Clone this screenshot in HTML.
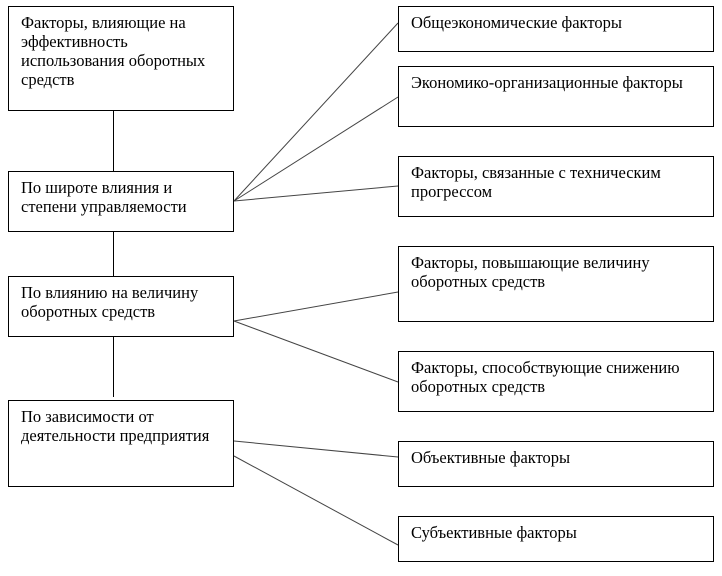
<!DOCTYPE html>
<html><head><meta charset="utf-8"><style>
body{margin:0;background:#fff;}
svg text{font-family:"Liberation Serif",serif;font-size:16.5px;fill:#000;}
</style></head><body>
<svg width="722" height="571" xmlns="http://www.w3.org/2000/svg">
<g fill="none" stroke="#000" stroke-width="1">
<rect x="8.5" y="6.5" width="225" height="104"/>
<rect x="8.5" y="171.5" width="225" height="60"/>
<rect x="8.5" y="276.5" width="225" height="60"/>
<rect x="8.5" y="400.5" width="225" height="86"/>
<rect x="398.5" y="6.5" width="315" height="45"/>
<rect x="398.5" y="66.5" width="315" height="60"/>
<rect x="398.5" y="156.5" width="315" height="60"/>
<rect x="398.5" y="246.5" width="315" height="75"/>
<rect x="398.5" y="351.5" width="315" height="60"/>
<rect x="398.5" y="441.5" width="315" height="45"/>
<rect x="398.5" y="516.5" width="315" height="45"/>
<line x1="113.5" y1="111" x2="113.5" y2="171"/>
<line x1="113.5" y1="232" x2="113.5" y2="276"/>
<line x1="113.5" y1="337" x2="113.5" y2="397"/>
</g>
<g stroke="#444" stroke-width="1">
<line x1="234" y1="201" x2="398" y2="23"/>
<line x1="234" y1="201" x2="398" y2="97"/>
<line x1="234" y1="201" x2="398" y2="186"/>
<line x1="234" y1="321" x2="398" y2="292"/>
<line x1="234" y1="321" x2="398" y2="382"/>
<line x1="234" y1="441" x2="398" y2="457"/>
<line x1="234" y1="456" x2="398" y2="545"/>
</g>
<text x="21" y="28">Факторы, влияющие на</text>
<text x="21" y="47">эффективность</text>
<text x="21" y="66">использования оборотных</text>
<text x="21" y="85">средств</text>
<text x="21" y="193">По широте влияния и</text>
<text x="21" y="212">степени управляемости</text>
<text x="21" y="298">По влиянию на величину</text>
<text x="21" y="317">оборотных средств</text>
<text x="21" y="422">По зависимости от</text>
<text x="21" y="441">деятельности предприятия</text>
<text x="411" y="28">Общеэкономические факторы</text>
<text x="411" y="88">Экономико-организационные факторы</text>
<text x="411" y="178">Факторы, связанные с техническим</text>
<text x="411" y="197">прогрессом</text>
<text x="411" y="268">Факторы, повышающие величину</text>
<text x="411" y="287">оборотных средств</text>
<text x="411" y="373">Факторы, способствующие снижению</text>
<text x="411" y="392">оборотных средств</text>
<text x="411" y="463">Объективные факторы</text>
<text x="411" y="538">Субъективные факторы</text>
</svg>
</body></html>
